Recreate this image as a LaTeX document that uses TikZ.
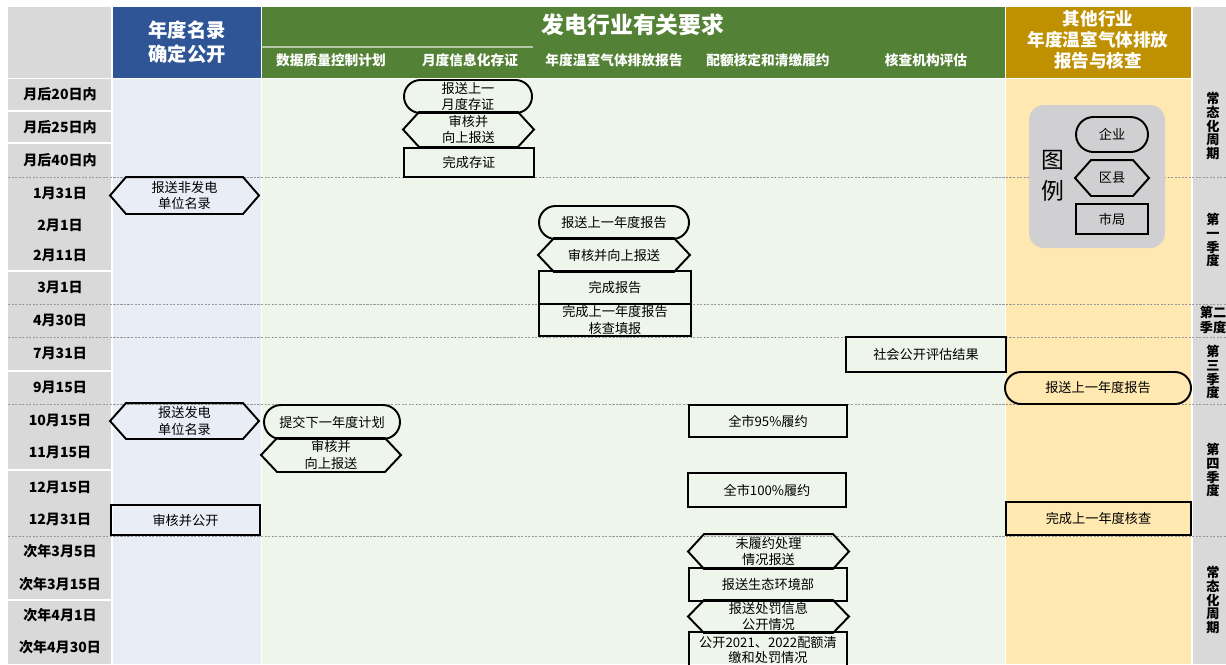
\documentclass[tikz,border=0pt]{standalone}
\usepackage{fontspec}
\setmainfont{Noto Sans CJK SC}
\usetikzlibrary{shapes.misc}
\definecolor{hdgray}{HTML}{D9D9D9}
\definecolor{hdblue}{HTML}{2F5597}
\definecolor{hdgreen}{HTML}{538135}
\definecolor{hdgold}{HTML}{BF9000}
\definecolor{bgblue}{HTML}{E9EDF6}
\definecolor{bggreen}{HTML}{EEF5EA}
\definecolor{bggold}{HTML}{FFE9B1}
\definecolor{leggray}{HTML}{D0D0D2}
\tikzstyle{stage}=[draw=black,line width=1.1pt,inner sep=0pt,align=center,font=\fontsize{7.5}{9.5}\selectfont]
\tikzstyle{rowsep}=[gray!80,line width=0.4pt,dash pattern=on 1.2pt off 0.8pt]
\tikzset{
  ent/.style={stage,rounded rectangle},
  city/.style={stage,rectangle},
  dist/.style={stage,draw=none},
  hexline/.style={black,line width=1.1pt},
  sz/.style 2 args={minimum width=#1*0.02cm,minimum height=#2*0.02cm},
  hdtxt/.style={white,align=center,inner sep=0pt},
  datelbl/.style={inner sep=0pt,font=\bfseries\fontsize{8}{9}\selectfont},
  sidetxt/.style={inner sep=0pt,align=center,font=\bfseries\fontsize{7.5}{7.9}\selectfont}
}

\begin{document}
\begin{tikzpicture}[x=0.02cm,y=-0.02cm]
  \def\tip{0.32cm}
  \useasboundingbox (0,0) rectangle (1226,664);
  \clip (0,0) rectangle (1226,664);

  % TABLE
  \fill[white] (0,0) rectangle (1226,664);
  \fill[hdgray] (8,7) rectangle (111,78);
  \fill[hdgray] (8,79) rectangle (111,664);
  \fill[hdblue] (113,7) rectangle (261,78);
  \fill[bgblue] (113,79) rectangle (261,664);
  \fill[hdgreen] (262,7) rectangle (1005,78);
  \fill[bggreen] (262,79) rectangle (1005,664);
  \fill[hdgold] (1006,7) rectangle (1191,78);
  \fill[bggold] (1006,79) rectangle (1191,664);
  \fill[hdgray] (1193,7) rectangle (1226,664);
  \draw[hdgreen!45!white,line width=0.6pt] (262,47) -- (533,47);
  \foreach \y in {111,143,271,371,470,600}
    \draw[white,line width=0.6pt] (8,\y) -- (111,\y);
  \foreach \y in {177,304,337,404,536}
    \draw[rowsep] (8,\y) -- (1226,\y);

  % HEADERS
  \node[hdtxt,font=\bfseries\fontsize{11}{14}\selectfont] (hlist) at (187,42) {年度名录\\确定公开};
  \node[hdtxt,font=\bfseries\fontsize{13}{15}\selectfont] (hpower) at (633,25) {发电行业有关要求};
  \node[hdtxt,font=\bfseries\fontsize{10}{12}\selectfont] (hother) at (1098,40) {其他行业\\年度温室气体排放\\报告与核查};
  \foreach \x/\t [count=\i] in {331/数据质量控制计划,470/月度信息化存证,614/年度温室气体排放报告,768/配额核定和清缴履约,926/核查机构评估}
    \node[hdtxt,font=\bfseries\fontsize{7.8}{9}\selectfont] (sub\i) at (\x,60) {\t};

  % DATES
  \foreach \y/\d [count=\i] in {94/月后20日内,127/月后25日内,160/月后40日内,193/1月31日,225/2月1日,255/2月11日,287/3月1日,320/4月30日,353/7月31日,387/9月15日,420/10月15日,452/11月15日,487/12月15日,519/12月31日,551/次年3月5日,584/次年3月15日,615/次年4月1日,647/次年4月30日}
    \node[datelbl] (d\i) at (60,\y) {\d};

  % PERIODS
  \node[sidetxt] (s1) at (1213,126) {常\\态\\化\\周\\期};
  \node[sidetxt] (s2) at (1213,240) {第\\一\\季\\度};
  \node[sidetxt,font=\bfseries\fontsize{7.5}{9}\selectfont] (s3) at (1213,320) {第二\\季度};
  \node[sidetxt] (s4) at (1213,372) {第\\三\\季\\度};
  \node[sidetxt] (s5) at (1213,470) {第\\四\\季\\度};
  \node[sidetxt] (s6) at (1213,600) {常\\态\\化\\周\\期};

  % ANNUAL DIRECTORY
  \node[dist,sz={147}{35}] (nfhex) at (184.5,195.5) {报送非发电\\单位名录};
  \node[dist,sz={147}{34}] (fhex) at (184.5,421) {报送发电\\单位名录};
  \node[city,sz={149}{30}] (pub) at (185.5,520) {审核并公开};

  % MONTHLY RECORDS
  \node[ent,sz={128}{33}] (msub) at (468,96.5) {报送上一\\月度存证};
  \node[dist,sz={129}{33}] (mchk) at (468.5,129.5) {审核并\\向上报送};
  \node[city,sz={130}{29}] (mdone) at (469,162.5) {完成存证};

  % QUALITY PLAN
  \node[ent,sz={136}{34}] (psub) at (332,422) {提交下一年度计划};
  \node[dist,sz={138}{32}] (pchk) at (331,455) {审核并\\向上报送};

  % ANNUAL REPORT
  \node[ent,sz={150}{33}] (asub) at (614,222.5) {报送上一年度报告};
  \node[dist,sz={150}{32}] (achk) at (614,255) {审核并向上报送};
  \node[city,sz={152}{33}] (adone) at (615,287.5) {完成报告};
  \node[city,sz={152}{32}] (afill) at (615,320) {完成上一年度报告\\核查填报};

  % QUOTA
  \node[city,sz={158}{32}] (q95) at (768,421) {全市95\%履约};
  \node[city,sz={158}{34}] (q100) at (767,490) {全市100\%履约};
  \node[dist,sz={159}{33}] (qfail) at (768.5,551.5) {未履约处理\\情况报送};
  \node[city,sz={158}{33}] (qmee) at (768,584.5) {报送生态环境部};
  \node[dist,sz={159}{31}] (qpen) at (768.5,616.5) {报送处罚信息\\公开情况};
  \node[city,sz={158}{36},font=\fontsize{7.5}{8.8}\selectfont] (qpub) at (768,650) {公开2021、2022配额清\\缴和处罚情况};

  % VERIFIER
  \node[city,sz={160}{35}] (vpub) at (926,354.5) {社会公开评估结果};

  % OTHER SECTORS
  \node[ent,sz={186}{32}] (osub) at (1098,388) {报送上一年度报告};
  \node[city,sz={185}{33}] (odone) at (1098.5,518.5) {完成上一年度核查};

  % LEGEND
  \fill[leggray,rounded corners=0.3cm] (1029,105) rectangle (1165,248);
  \node[align=center,inner sep=0pt,font=\fontsize{13}{18}\selectfont] (lgtitle) at (1053,176) {图\\例};
  \node[ent,sz={72}{35}] (lgent) at (1112,134.5) {企业};
  \node[dist,sz={72}{34}] (lgdist) at (1112,178) {区县};
  \node[city,sz={72}{30}] (lgcity) at (1112,219) {市局};

  % HEXAGONS
  \foreach \n in {nfhex,fhex,mchk,pchk,achk,qfail,qpen,lgdist}{
    \draw[hexline] (\n.west) -- ([xshift=\tip]\n.north west) -- ([xshift=-\tip]\n.north east)
      -- (\n.east) -- ([xshift=-\tip]\n.south east) -- ([xshift=\tip]\n.south west) -- cycle;
  }

\end{tikzpicture}
\end{document}
